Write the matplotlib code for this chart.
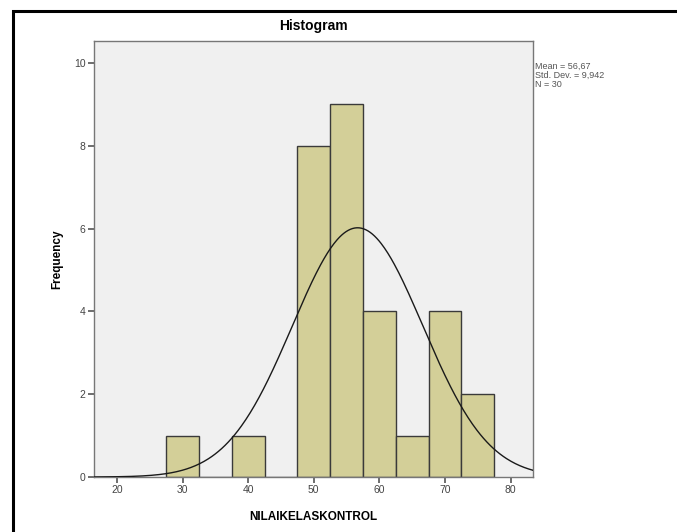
import numpy as np
import matplotlib
matplotlib.use("Agg")
import matplotlib.pyplot as plt
from matplotlib.patches import Rectangle

# data
bin_edges = [27.5, 32.5, 37.5, 42.5, 47.5, 52.5, 57.5, 62.5, 67.5, 72.5, 77.5]
bin_counts = [1, 0, 1, 0, 8, 9, 4, 1, 4, 2]
mean = 56.67
std = 9.942
n = 30
x_ticks = [20, 30, 40, 50, 60, 70, 80]
y_ticks = [0, 2, 4, 6, 8, 10]

plt.rcParams["font.family"] = "Liberation Sans"

fig = plt.figure(figsize=(6.77, 5.32), dpi=100)
fig.patch.set_facecolor("white")
W, H = 677, 532
ax = fig.add_axes([94 / W, 1 - 477 / H, (533 - 94) / W, (477 - 41) / H])
ax.set_facecolor("#f0f0f0")

lefts = bin_edges[:-1]
widths = np.diff(bin_edges)
ax.bar(lefts, bin_counts, width=widths, align="edge", color="#d3cf98",
       edgecolor="#3a3a3a", linewidth=1.0, zorder=2)

# normal curve scaled to counts
xs = np.linspace(16.5, 83.4, 400)
bw = widths[0]
ys = n * bw / (std * np.sqrt(2 * np.pi)) * np.exp(-0.5 * ((xs - mean) / std) ** 2)
ax.plot(xs, ys, color="#1a1a1a", linewidth=1.0, zorder=3)

ax.set_xlim(16.5, 83.4)
ax.set_ylim(0, 10.53)
ax.set_xticks(x_ticks)
ax.set_yticks(y_ticks)
ax.tick_params(direction="out", length=4, width=1.2, color="#555555",
               labelsize=7.5, labelcolor="#444444", pad=2)
for s in ax.spines.values():
    s.set_color("#777777")
    s.set_linewidth(1.0)

ax.set_title("Histogram", fontsize=10, fontweight="bold", pad=8)
ax.set_xlabel("NILAIKELASKONTROL", fontsize=8.5, fontweight="bold", labelpad=11)
ax.set_ylabel("Frequency", fontsize=8.5, fontweight="bold", labelpad=8)

mean_txt = f"{mean:.2f}".replace(".", ",")
std_txt = f"{std:.3f}".replace(".", ",")
fig.text(535 / W, 1 - 62 / H,
         f"Mean = {mean_txt}\nStd. Dev. = {std_txt}\nN = {n}",
         fontsize=6.5, color="#555555", va="top", ha="left", linespacing=1.0)

# outer frame (SPSS chart border)
fig.patches.append(Rectangle((13 / W, -0.01), 1.0, 1 - 11 / H + 0.01,
                             transform=fig.transFigure, fill=False,
                             edgecolor="black", linewidth=2.2))

fig.savefig("out.png", dpi=100)
